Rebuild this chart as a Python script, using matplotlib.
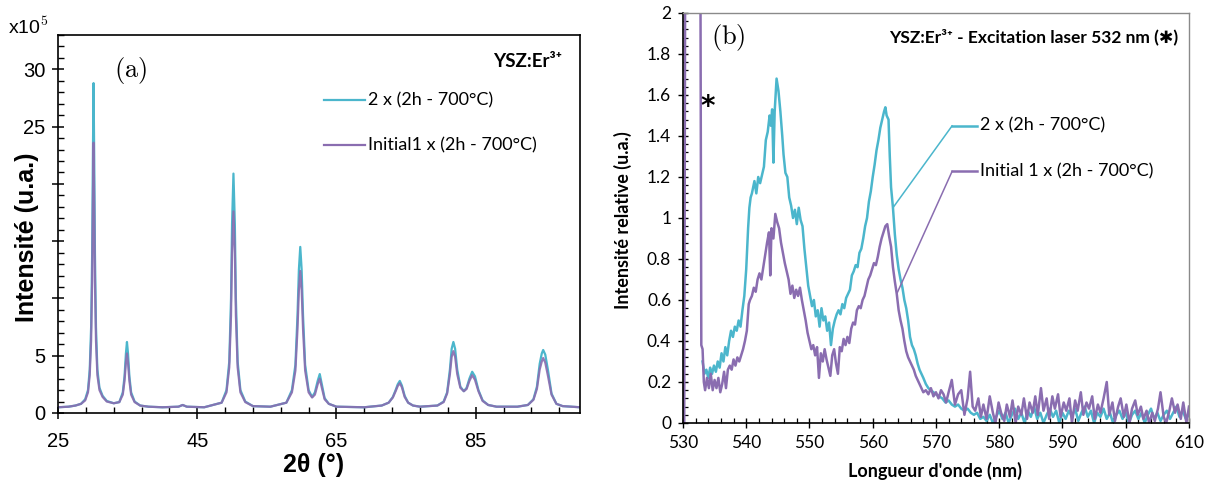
import numpy as np
import matplotlib.pyplot as plt
from matplotlib.ticker import MultipleLocator, FuncFormatter

plt.rcParams["mathtext.fontset"] = "cm"

CYAN = "#4BB6CC"
PURPLE = "#8A6DB0"

# ── (a) XRD patterns, values x1e5 ───────────────────────────
xrd_2theta = [25.0, 26.5, 27.5, 28.3, 28.9, 29.3, 29.55, 29.75, 29.9, 30.0, 30.1, 30.2,
              30.3, 30.45, 30.65, 30.95, 31.4, 32.0, 33.0, 33.8, 34.3, 34.55, 34.75, 34.9,
              35.05, 35.25, 35.5, 36.0, 36.8, 38.0, 40.0, 42.3, 42.9, 43.5, 46.0, 48.5,
              49.2, 49.6, 49.85, 50.0, 50.2, 50.4, 50.55, 50.8, 51.2, 51.9, 53.0, 55.5,
              57.8, 58.6, 59.1, 59.4, 59.6, 59.8, 60.0, 60.2, 60.5, 61.0, 61.5, 61.9,
              62.3, 62.6, 62.9, 63.3, 63.9, 65.0, 69.0, 71.5, 72.5, 73.1, 73.5, 73.8,
              74.1, 74.4, 74.8, 75.3, 76.0, 77.0, 79.5, 80.4, 80.9, 81.3, 81.55, 81.8,
              82.05, 82.35, 82.8, 83.3, 83.7, 84.1, 84.5, 84.9, 85.4, 86.0, 86.8, 88.0,
              91.0, 92.5, 93.3, 93.8, 94.2, 94.5, 94.7, 95.0, 95.4, 95.9, 96.6, 97.5,
              100.0]
xrd_2x = [0.5, 0.55, 0.65, 0.8, 1.2, 2.0, 3.8, 7.5, 14.0, 22.0, 28.8, 22.0,
          14.0, 7.5, 3.8, 2.2, 1.5, 1.05, 0.85, 0.95, 1.8, 3.2, 5.2, 6.2,
          5.2, 3.2, 1.8, 1.0, 0.65, 0.55, 0.5, 0.55, 0.7, 0.55, 0.5, 0.9,
          2.0, 4.5, 10.0, 16.5, 20.9, 16.5, 10.0, 4.5, 2.0, 1.0, 0.6, 0.55,
          0.9, 2.0, 4.2, 8.5, 12.5, 14.5, 12.5, 8.5, 4.2, 2.0, 1.4, 1.8,
          2.8, 3.4, 2.5, 1.3, 0.8, 0.55, 0.5, 0.65, 0.9, 1.4, 2.0, 2.5,
          2.8, 2.4, 1.5, 0.9, 0.65, 0.55, 0.65, 1.0, 1.8, 3.8, 5.6, 6.2,
          5.6, 3.8, 2.3, 1.9, 2.2, 3.0, 3.6, 3.2, 2.0, 1.1, 0.7, 0.55,
          0.55, 0.7, 1.2, 2.3, 4.3, 5.2, 5.5, 5.1, 3.7, 1.7, 0.8, 0.6,
          0.5]
xrd_1x = [0.5, 0.55, 0.65, 0.8, 1.1, 1.8, 3.3, 6.3, 11.5, 18.0, 23.6, 18.0,
          11.5, 6.3, 3.3, 2.0, 1.4, 1.0, 0.85, 0.95, 1.6, 2.8, 4.4, 5.2,
          4.4, 2.8, 1.6, 0.95, 0.65, 0.55, 0.5, 0.55, 0.7, 0.55, 0.5, 0.9,
          1.8, 4.0, 8.5, 14.0, 17.6, 14.0, 8.5, 4.0, 1.8, 0.95, 0.6, 0.55,
          0.9, 1.8, 3.7, 7.3, 10.7, 12.4, 10.7, 7.3, 3.7, 1.8, 1.35, 1.6,
          2.5, 3.0, 2.2, 1.2, 0.8, 0.55, 0.5, 0.65, 0.9, 1.35, 1.9, 2.35,
          2.6, 2.25, 1.4, 0.9, 0.65, 0.55, 0.65, 0.95, 1.7, 3.4, 4.9, 5.4,
          4.9, 3.4, 2.2, 1.9, 2.1, 2.8, 3.3, 2.9, 1.9, 1.05, 0.7, 0.55,
          0.55, 0.7, 1.15, 2.1, 3.8, 4.5, 4.8, 4.4, 3.2, 1.6, 0.8, 0.6,
          0.5]

# ── (b) emission spectra, relative intensity ───────────────
pl_nm_2x = [533.1, 533.4, 533.7, 534.0, 534.3, 534.6, 534.9, 535.2, 535.5, 535.8, 536.1, 536.4,
            536.7, 537.0, 537.3, 537.6, 537.9, 538.2, 538.5, 538.8, 539.1, 539.4, 539.7, 540.0,
            540.3, 540.5, 540.7, 540.9, 541.1, 541.3, 541.6, 541.9, 542.2, 542.5, 542.8, 543.1,
            543.4, 543.7, 543.9, 544.1, 544.3, 544.5, 544.8, 545.1, 545.4, 545.7, 545.9, 546.2,
            546.5, 546.8, 547.1, 547.4, 547.7, 548.0, 548.3, 548.6, 548.9, 549.2, 549.5, 549.8,
            550.1, 550.4, 550.7, 551.0, 551.3, 551.6, 551.9, 552.2, 552.5, 552.8, 553.1, 553.4,
            553.7, 554.0, 554.3, 554.6, 554.9, 555.2, 555.5, 555.8, 556.1, 556.4, 556.7, 557.0,
            557.3, 557.6, 557.9, 558.2, 558.5, 558.8, 559.1, 559.4, 559.7, 560.0, 560.3, 560.6,
            560.9, 561.2, 561.5, 561.8, 562.0, 562.2, 562.5, 562.7, 562.9, 563.2, 563.5, 563.8,
            564.1, 564.4, 564.7, 565.0, 565.3, 565.6, 565.9, 566.2, 566.5, 566.8, 567.1, 567.4,
            567.7, 568.0, 568.4, 568.8, 569.2, 569.6, 570.0, 570.5, 571.0, 571.5, 572.0, 572.5,
            573.0, 573.5, 574.0, 574.5, 575.0, 575.5, 576.0, 576.5, 577.0, 577.5, 578.0, 578.5,
            579.0, 579.5, 580.0, 580.5, 581.0, 581.5, 582.0, 582.5, 583.0, 583.5, 584.0, 584.5,
            585.0, 585.5, 586.0, 586.5, 587.0, 587.5, 588.0, 588.5, 589.0, 589.5, 590.0, 590.5,
            591.0, 591.5, 592.0, 592.5, 593.0, 593.5, 594.0, 594.5, 595.0, 595.5, 596.0, 596.5,
            597.0, 597.5, 598.0, 598.5, 599.0, 599.5, 600.0, 600.5, 601.0, 601.5, 602.0, 602.5,
            603.0, 603.5, 604.0, 604.5, 605.0, 605.5, 606.0, 606.5, 607.0, 607.5, 608.0, 608.5,
            609.0, 609.5, 610.0]
pl_2x = [0.30, 0.24, 0.26, 0.22, 0.27, 0.24, 0.28, 0.25, 0.30, 0.27, 0.34, 0.30,
         0.37, 0.33, 0.40, 0.45, 0.42, 0.47, 0.45, 0.50, 0.47, 0.55, 0.62, 0.75,
         0.95, 1.05, 1.10, 1.12, 1.15, 1.18, 1.12, 1.20, 1.17, 1.21, 1.25, 1.38,
         1.42, 1.50, 1.45, 1.53, 1.27, 1.52, 1.68, 1.62, 1.52, 1.40, 1.31, 1.22,
         1.20, 1.10, 1.06, 1.00, 1.04, 0.97, 1.05, 0.99, 0.96, 0.85, 0.76, 0.67,
         0.62, 0.57, 0.60, 0.52, 0.55, 0.47, 0.56, 0.50, 0.52, 0.45, 0.49, 0.38,
         0.46, 0.50, 0.53, 0.55, 0.53, 0.58, 0.56, 0.61, 0.63, 0.65, 0.72, 0.74,
         0.77, 0.76, 0.83, 0.85, 0.90, 0.96, 1.00, 1.08, 1.13, 1.20, 1.26, 1.33,
         1.38, 1.44, 1.48, 1.52, 1.54, 1.50, 1.48, 1.30, 1.15, 1.05, 0.92, 0.82,
         0.75, 0.70, 0.66, 0.60, 0.56, 0.50, 0.42, 0.38, 0.36, 0.33, 0.29, 0.26,
         0.24, 0.22, 0.19, 0.17, 0.16, 0.15, 0.14, 0.13, 0.12, 0.10, 0.11, 0.09,
         0.08, 0.09, 0.07, 0.06, 0.07, 0.05, 0.04, 0.05, 0.02, 0.03, 0.01, 0.04,
         0.00, 0.03, 0.06, 0.02, 0.05, 0.00, 0.04, 0.07, 0.02, 0.05, 0.00, 0.06,
         0.03, 0.08, 0.02, 0.05, 0.00, 0.04, 0.07, 0.03, 0.06, 0.00, 0.05, 0.02,
         0.06, 0.03, 0.07, 0.01, 0.05, 0.08, 0.03, 0.06, 0.00, 0.05, 0.03, 0.07,
         0.02, 0.05, 0.00, 0.04, 0.06, 0.02, 0.05, 0.00, 0.04, 0.06, 0.02, 0.05,
         0.00, 0.04, 0.07, 0.02, 0.05, 0.01, 0.04, 0.06, 0.02, 0.05, 0.08, 0.03,
         0.06, 0.02, 0.04]

pl_nm_1x = [530.2, 530.4, 532.7, 532.9, 533.1, 533.3, 533.5, 533.8, 534.1, 534.4, 534.7, 535.0,
            535.3, 535.6, 535.9, 536.2, 536.5, 536.8, 537.1, 537.4, 537.7, 538.0, 538.3, 538.6,
            538.9, 539.2, 539.5, 539.8, 540.1, 540.4, 540.6, 540.9, 541.2, 541.5, 541.8, 542.1,
            542.4, 542.7, 543.0, 543.3, 543.6, 543.8, 544.0, 544.3, 544.6, 544.9, 545.2, 545.5,
            545.8, 546.1, 546.4, 546.7, 547.0, 547.3, 547.6, 547.9, 548.2, 548.5, 548.8, 549.1,
            549.4, 549.7, 550.0, 550.3, 550.6, 550.9, 551.2, 551.5, 551.8, 552.1, 552.4, 552.7,
            553.0, 553.3, 553.6, 553.9, 554.2, 554.5, 554.8, 555.1, 555.4, 555.7, 556.0, 556.3,
            556.6, 556.9, 557.2, 557.5, 557.8, 558.1, 558.4, 558.7, 559.0, 559.3, 559.6, 559.9,
            560.2, 560.5, 560.8, 561.1, 561.4, 561.7, 562.0, 562.3, 562.6, 562.9, 563.2, 563.5,
            563.8, 564.1, 564.4, 564.7, 565.0, 565.3, 565.6, 565.9, 566.2, 566.5, 566.8, 567.1,
            567.4, 567.7, 568.0, 568.4, 568.8, 569.2, 569.6, 570.0, 570.4, 570.8, 571.2, 571.6,
            572.0, 572.5, 573.0, 573.5, 574.0, 574.5, 575.0, 575.4, 575.8, 576.2, 576.7, 577.1,
            577.5, 578.0, 578.5, 579.0, 579.4, 579.9, 580.3, 580.8, 581.2, 581.7, 582.1, 582.6,
            583.0, 583.5, 583.9, 584.4, 584.8, 585.3, 585.7, 586.1, 586.6, 587.0, 587.5, 587.9,
            588.4, 588.8, 589.3, 589.7, 590.2, 590.6, 591.1, 591.5, 592.0, 592.4, 592.9, 593.3,
            593.8, 594.2, 594.7, 595.1, 595.6, 596.0, 596.5, 597.0, 597.4, 597.9, 598.3, 598.8,
            599.2, 599.7, 600.1, 600.6, 601.0, 601.5, 601.9, 602.4, 602.8, 603.3, 603.7, 604.2,
            604.6, 605.1, 605.5, 606.0, 606.4, 606.9, 607.3, 607.8, 608.2, 608.7, 609.1, 609.6,
            610.0]
pl_1x = [0.00, 3.00, 3.00, 0.38, 0.36, 0.20, 0.16, 0.22, 0.17, 0.24, 0.16, 0.21,
         0.17, 0.22, 0.15, 0.19, 0.25, 0.17, 0.26, 0.28, 0.26, 0.31, 0.28, 0.32,
         0.30, 0.33, 0.36, 0.40, 0.45, 0.58, 0.60, 0.62, 0.66, 0.64, 0.70, 0.73,
         0.70, 0.76, 0.82, 0.88, 0.93, 0.72, 0.95, 0.90, 1.02, 0.98, 0.95, 0.88,
         0.83, 0.78, 0.74, 0.70, 0.63, 0.67, 0.61, 0.65, 0.62, 0.66, 0.60, 0.55,
         0.50, 0.44, 0.40, 0.36, 0.38, 0.33, 0.37, 0.22, 0.34, 0.30, 0.36, 0.31,
         0.27, 0.23, 0.33, 0.36, 0.29, 0.24, 0.37, 0.35, 0.41, 0.38, 0.42, 0.39,
         0.46, 0.49, 0.48, 0.55, 0.57, 0.56, 0.60, 0.62, 0.66, 0.70, 0.72, 0.75,
         0.78, 0.77, 0.81, 0.86, 0.90, 0.93, 0.96, 0.97, 0.91, 0.86, 0.76, 0.69,
         0.63, 0.55, 0.50, 0.46, 0.40, 0.35, 0.32, 0.30, 0.28, 0.26, 0.23, 0.21,
         0.19, 0.17, 0.15, 0.16, 0.14, 0.17, 0.13, 0.15, 0.12, 0.16, 0.14, 0.10,
         0.15, 0.21, 0.09, 0.14, 0.16, 0.04, 0.12, 0.25, 0.08, 0.06, 0.12, 0.03,
         0.09, 0.02, 0.13, 0.05, 0.00, 0.10, 0.05, 0.01, 0.09, 0.03, 0.11, 0.00,
         0.08, 0.04, 0.12, 0.02, 0.10, 0.05, 0.13, 0.04, 0.17, 0.06, 0.12, 0.02,
         0.13, 0.07, 0.14, 0.03, 0.10, 0.06, 0.12, 0.00, 0.11, 0.06, 0.15, 0.04,
         0.10, 0.07, 0.13, 0.02, 0.09, 0.05, 0.12, 0.20, 0.04, 0.10, 0.01, 0.08,
         0.12, 0.03, 0.09, 0.00, 0.07, 0.11, 0.04, 0.08, 0.02, 0.06, 0.00, 0.05,
         0.01, 0.07, 0.15, 0.03, 0.00, 0.06, 0.12, 0.05, 0.09, 0.02, 0.10, 0.00,
         0.08]

LABEL_2X = "2 x (2h - 700°C)"
LABEL_A_1X = "Initial1 x (2h - 700°C)"
LABEL_B_1X = "Initial 1 x (2h - 700°C)"
TXT = ["Lato", "DejaVu Sans"]

assert len(xrd_2theta) == len(xrd_2x) == len(xrd_1x)
assert len(pl_nm_2x) == len(pl_2x) and len(pl_nm_1x) == len(pl_1x)

fig = plt.figure(figsize=(12.12, 4.88), dpi=100)

# ── 1. XRD ────────────────────────────────────────────────
ax1 = fig.add_axes([0.0479, 0.1537, 0.4307, 0.7746])
ax1.plot(xrd_2theta, xrd_2x, color=CYAN, lw=1.6)
ax1.plot(xrd_2theta, xrd_1x, color=PURPLE, lw=1.6, alpha=0.9)
ax1.set_xlim(25, 100)
ax1.set_ylim(0, 33)
ax1.xaxis.set_major_locator(MultipleLocator(20, offset=5))
ax1.xaxis.set_minor_locator(MultipleLocator(4, offset=1))
ax1.yaxis.set_major_locator(MultipleLocator(5))
ax1.yaxis.set_minor_locator(MultipleLocator(1))
ax1.yaxis.set_major_formatter(FuncFormatter(lambda v, p: "" if v in (10, 15, 20) else f"{v:g}"))
ax1.tick_params(which="major", direction="inout", length=8, width=1.1, labelsize=14.5)
ax1.tick_params(axis="x", which="major", pad=10)
ax1.tick_params(axis="y", which="major", pad=5)
ax1.tick_params(which="minor", direction="in", length=4, width=1.0)
for lab in ax1.get_xticklabels() + ax1.get_yticklabels():
    lab.set_fontfamily("Liberation Sans")
for sp in ax1.spines.values():
    sp.set_linewidth(1.2)
ax1.set_xlabel("2θ (°)", fontsize=18, fontweight="bold", family="Liberation Sans")
ax1.xaxis.set_label_coords(0.49, -0.105)
ax1.set_ylabel("Intensité (u.a.)", fontsize=18, fontweight="bold", family="Liberation Sans")
ax1.yaxis.set_label_coords(-0.037, 0.465)
fig.text(0.007, 0.943, "x10$^{5}$", fontsize=14, family="Liberation Sans", va="center")
ax1.text(0.138, 0.905, r"$\mathrm{(a)}$", transform=ax1.transAxes, fontsize=19,
         ha="center", va="center")
ax1.text(0.966, 0.93, "YSZ:Er³⁺", transform=ax1.transAxes, fontsize=13.5,
         fontweight="bold", family=TXT, ha="right", va="center")
for yy, col, lab in [(0.828, CYAN, LABEL_2X), (0.708, PURPLE, LABEL_A_1X)]:
    ax1.plot([0.51, 0.588], [yy, yy], color=col, lw=1.6, transform=ax1.transAxes)
    ax1.text(0.594, yy, lab, transform=ax1.transAxes, fontsize=13, family=TXT,
             va="center")

# ── 2. Photoluminescence ──────────────────────────────────
ax2 = fig.add_axes([0.5635, 0.1332, 0.4175, 0.8402])
ax2.plot(pl_nm_2x, pl_2x, color=CYAN, lw=1.8)
ax2.plot(pl_nm_1x, pl_1x, color=PURPLE, lw=1.8)
ax2.set_xlim(530, 610)
ax2.set_ylim(0, 2)
ax2.xaxis.set_major_locator(MultipleLocator(10))
ax2.xaxis.set_minor_locator(MultipleLocator(2))
ax2.yaxis.set_major_locator(MultipleLocator(0.2))
ax2.yaxis.set_minor_locator(MultipleLocator(0.04))
ax2.yaxis.set_major_formatter(FuncFormatter(lambda v, p: f"{round(v, 2):g}"))
ax2.tick_params(which="major", direction="inout", length=7, width=1.0, labelsize=12.5, pad=5)
ax2.tick_params(which="minor", direction="in", length=3.5, width=0.9)
for lab in ax2.get_xticklabels() + ax2.get_yticklabels():
    lab.set_fontfamily("Lato")
ax2.spines["left"].set_linewidth(1.2)
ax2.spines["bottom"].set_linewidth(1.2)
for s in ["top", "right"]:
    ax2.spines[s].set_color("#8a8a8a")
    ax2.spines[s].set_linewidth(1.0)
ax2.set_xlabel("Longueur d'onde (nm)", fontsize=13, fontweight="bold", family="Lato")
ax2.xaxis.set_label_coords(0.498, -0.095)
ax2.set_ylabel("Intensité relative (u.a.)", fontsize=13, fontweight="bold", family="Lato")
ax2.yaxis.set_label_coords(-0.1, 0.495)
ax2.text(0.089, 0.939, r"$\mathrm{(b)}$", transform=ax2.transAxes, fontsize=19,
         ha="center", va="center")
ax2.text(0.978, 0.941, "YSZ:Er³⁺ - Excitation laser 532 nm (✱)",
         transform=ax2.transAxes, fontsize=12.5, fontweight="bold",
         family=TXT, ha="right", va="center")
ax2.text(0.049, 0.771, "*", transform=ax2.transAxes, fontsize=20, fontweight="bold",
         ha="center", va="center")

# callout labels
callouts = [(CYAN, LABEL_2X, 0.725, (pl_nm_2x[105], pl_2x[105])),
            (PURPLE, LABEL_B_1X, 0.614, (pl_nm_1x[108], pl_1x[108]))]
for col, lab, yy, pt in callouts:
    ax2.annotate("", xy=pt, xycoords="data", xytext=(0.532, yy), textcoords="axes fraction",
                 arrowprops=dict(arrowstyle="-", color=col, lw=1.1, shrinkA=0, shrinkB=0))
    ax2.plot([0.532, 0.582], [yy, yy], color=col, lw=1.8, transform=ax2.transAxes)
    ax2.text(0.587, yy, lab, transform=ax2.transAxes, fontsize=13, family=TXT,
             va="center")

plt.savefig("out.png", dpi=100, facecolor="white")
